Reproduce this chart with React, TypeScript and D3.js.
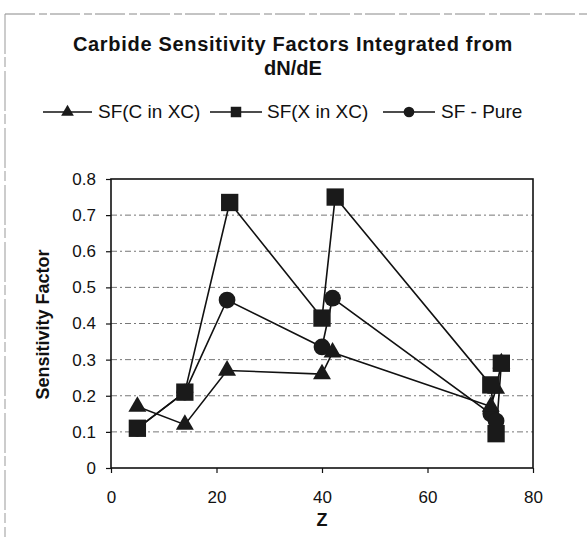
import React, { useRef, useEffect } from 'react';
import * as d3 from 'd3';

const zCarbonInXC = [5, 14, 22, 40, 42, 72, 73, 74];
const sfCarbonInXC = [0.17, 0.12, 0.27, 0.26, 0.32, 0.17, 0.22, 0.29];

const zMetalInXC = [5, 14, 22.5, 40, 42.5, 72, 73, 74];
const sfMetalInXC = [0.11, 0.21, 0.735, 0.415, 0.75, 0.23, 0.095, 0.29];

const zPure = [5, 14, 22, 40, 42, 72, 73];
const sfPure = [0.11, 0.21, 0.465, 0.335, 0.47, 0.15, 0.13];

const xTicks = [0, 20, 40, 60, 80];
const yTicks = [0, 0.1, 0.2, 0.3, 0.4, 0.5, 0.6, 0.7, 0.8];

const seriesNames = ['SF(C in XC)', 'SF(X in XC)', 'SF - Pure'];

function App() {
  const svgRef = useRef(null);

  useEffect(() => {
    const svg = d3.select(svgRef.current);
    svg.selectAll('*').remove();

    const width = 587;
    const height = 537;
    const margin = { top: 179, right: 54, bottom: 69, left: 111 };
    const font = 'Arial, "Liberation Sans", sans-serif';

    svg.attr('width', width).attr('height', height);

    // scanned page border
    svg.append('line').attr('x1', 5).attr('x2', width).attr('y1', 14).attr('y2', 14)
      .attr('stroke', '#888').attr('stroke-width', 1).attr('stroke-dasharray', '30 4 8 3');
    svg.append('line').attr('x1', 5).attr('x2', 5).attr('y1', 14).attr('y2', height)
      .attr('stroke', '#999').attr('stroke-width', 1).attr('stroke-dasharray', '40 3 10 4');

    const x = d3.scaleLinear().domain([0, 80]).range([margin.left, width - margin.right]);
    const y = d3.scaleLinear().domain([0, 0.8]).range([height - margin.bottom, margin.top]);

    // Title
    svg.append('text').attr('x', 293).attr('y', 51).attr('text-anchor', 'middle')
      .style('font-family', font).style('font-size', '20px').style('font-weight', 'bold')
      .style('letter-spacing', '0.7px').attr('fill', '#111')
      .text('Carbide Sensitivity Factors Integrated from');
    svg.append('text').attr('x', 293).attr('y', 75).attr('text-anchor', 'middle')
      .style('font-family', font).style('font-size', '20px').style('font-weight', 'bold')
      .attr('fill', '#111')
      .text('dN/dE');

    // gridlines
    svg.append('g').selectAll('line')
      .data(yTicks.filter(d => d > 0 && d < 0.8))
      .enter().append('line')
      .attr('x1', x(0)).attr('x2', x(80))
      .attr('y1', d => y(d)).attr('y2', d => y(d))
      .attr('stroke', '#777').attr('stroke-width', 1).attr('stroke-dasharray', '6 3 2 3');

    // frame
    svg.append('rect')
      .attr('x', x(0)).attr('y', y(0.8))
      .attr('width', x(80) - x(0)).attr('height', y(0) - y(0.8))
      .attr('fill', 'none').attr('stroke', '#111').attr('stroke-width', 1.6);

    // Axes
    const xAxis = svg.append('g')
      .attr('transform', `translate(0, ${y(0)})`)
      .call(d3.axisBottom(x).tickValues(xTicks).tickSize(5).tickPadding(18).tickFormat(d3.format('d')));
    const yAxis = svg.append('g')
      .attr('transform', `translate(${x(0)}, 0)`)
      .call(d3.axisLeft(y).tickValues(yTicks).tickSize(5).tickPadding(10)
        .tickFormat(d => (d === 0 ? '0' : d3.format('.1f')(d))));
    [xAxis, yAxis].forEach(a => {
      a.select('.domain').remove();
      a.selectAll('line').attr('stroke', '#111').attr('stroke-width', 1.2);
      a.selectAll('text').style('font-family', font).style('font-size', '17px').attr('fill', '#111');
    });

    // axis labels
    svg.append('text').attr('x', x(40)).attr('y', 526).attr('text-anchor', 'middle')
      .style('font-family', font).style('font-size', '18px').style('font-weight', 'bold')
      .attr('fill', '#111').text('Z');
    svg.append('text').attr('transform', `translate(49, ${y(0.4) + 1}) rotate(-90)`)
      .attr('text-anchor', 'middle')
      .style('font-family', font).style('font-size', '18px').style('font-weight', 'bold')
      .attr('fill', '#111')
      .text('Sensitivity Factor');

    const sym = [d3.symbolTriangle, d3.symbolSquare, d3.symbolCircle];
    const symSize = [140, 300, 220];
    const series = [
      zCarbonInXC.map((z, i) => [z, sfCarbonInXC[i]]),
      zMetalInXC.map((z, i) => [z, sfMetalInXC[i]]),
      zPure.map((z, i) => [z, sfPure[i]]),
    ];

    const line = d3.line().x(d => x(d[0])).y(d => y(d[1]));
    const drawOrder = [2, 0, 1];
    drawOrder.forEach(si => {
      svg.append('path').datum(series[si]).attr('d', line)
        .attr('fill', 'none').attr('stroke', '#111').attr('stroke-width', 1.6);
    });
    drawOrder.forEach(si => {
      svg.append('g').selectAll('path').data(series[si]).enter().append('path')
        .attr('transform', d => `translate(${x(d[0])}, ${y(d[1])})`)
        .attr('d', d3.symbol().type(sym[si]).size(symSize[si]))
        .attr('fill', '#1a1a1a');
    });

    // Legend
    const legendY = 112;
    const legendItems = [
      { x0: 43, x1: 92, label: 0, text: 98 },
      { x0: 210, x1: 262, label: 1, text: 267 },
      { x0: 383, x1: 435, label: 2, text: 441 },
    ];
    const legendSize = [70, 110, 90];
    legendItems.forEach((item, i) => {
      svg.append('line').attr('x1', item.x0).attr('x2', item.x1)
        .attr('y1', legendY).attr('y2', legendY)
        .attr('stroke', '#111').attr('stroke-width', 1.6);
      svg.append('path')
        .attr('transform', `translate(${(item.x0 + item.x1) / 2}, ${legendY})`)
        .attr('d', d3.symbol().type(sym[i]).size(legendSize[i]))
        .attr('fill', '#1a1a1a');
      svg.append('text').attr('x', item.text).attr('y', legendY + 6)
        .style('font-family', font).style('font-size', '19px').attr('fill', '#111')
        .text(seriesNames[item.label]);
    });
  }, []);

  return <svg ref={svgRef} style={{ position: 'absolute', left: 0, top: 0 }}></svg>;
}

export default App;
